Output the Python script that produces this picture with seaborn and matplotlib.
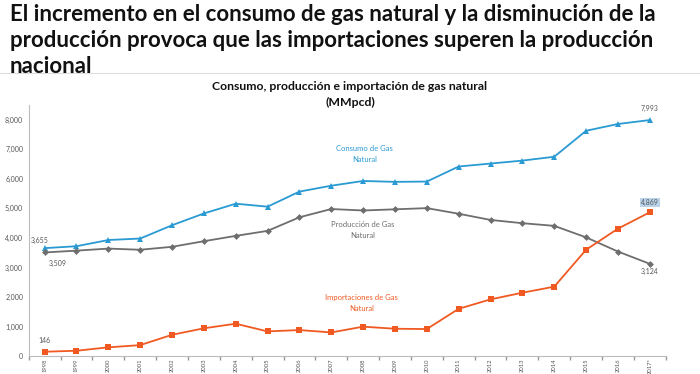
import pandas as pd
import matplotlib.pyplot as plt
import seaborn as sns

sns.set_theme(style="white")
plt.rcParams["font.family"] = ["Lato", "DejaVu Sans"]

years = ["1998", "1999", "2000", "2001", "2002", "2003", "2004", "2005", "2006", "2007",
         "2008", "2009", "2010", "2011", "2012", "2013", "2014", "2015", "2016", "2017*"]
consumo = [3655, 3720, 3930, 3980, 4430, 4830, 5160, 5060, 5570, 5770,
           5930, 5900, 5910, 6420, 6520, 6620, 6750, 7630, 7860, 7993]
produccion = [3509, 3570, 3640, 3600, 3700, 3890, 4070, 4240, 4700, 4980,
              4930, 4970, 5010, 4820, 4610, 4500, 4410, 4020, 3540, 3124]
importaciones = [146, 180, 295, 370, 720, 940, 1095, 835, 880, 800,
                 995, 925, 915, 1600, 1920, 2145, 2350, 3600, 4315, 4869]

blue = "#2a9ad3"
gray = "#6e6e6e"
orange = "#f05a22"

df = pd.DataFrame({"year": years, "Consumo": consumo,
                   "Produccion": produccion, "Importaciones": importaciones})

fig = plt.figure(figsize=(7, 3.74), dpi=100)
ax = fig.add_axes([0.041, 0.048, 0.91, 0.671])

sns.lineplot(data=df, x="year", y="Consumo", ax=ax, color=blue, marker="^",
             markersize=5, markeredgewidth=0, linewidth=1.3, sort=False)
sns.lineplot(data=df, x="year", y="Produccion", ax=ax, color=gray, marker="D",
             markersize=3.5, markeredgewidth=0, linewidth=1.3, sort=False)
sns.lineplot(data=df, x="year", y="Importaciones", ax=ax, color=orange, marker="s",
             markersize=4.5, markeredgewidth=0, linewidth=1.3, sort=False)

ax.set_xlim(-0.5, 19.5)
ax.set_ylim(0, 8500)
ax.set_yticks(range(0, 9000, 1000))
ax.set_yticklabels([f"{v:,}" for v in range(0, 9000, 1000)])
ax.set_xlabel("")
ax.set_ylabel("")
ax.tick_params(axis="y", labelsize=5, colors="#555555", length=0, pad=4)
ax.tick_params(axis="x", labelsize=4.2, colors="#555555", length=0, pad=1.5, rotation=90)
ax.set_xticks([i + 0.5 for i in range(-1, 20)], minor=True)
ax.tick_params(axis="x", which="minor", length=3, color="#999999", bottom=True)
for s in ["top", "right"]:
    ax.spines[s].set_visible(False)
for s in ["left", "bottom"]:
    ax.spines[s].set_color("#bbbbbb")
    ax.spines[s].set_linewidth(0.8)

# data labels
lab = dict(fontsize=5, color="#555555", ha="center", va="center")
ax.text(-0.15, 3930, "3,655", **lab)
ax.text(0.4, 3130, "3,509", **lab)
ax.text(0.0, 530, "146", **lab)
ax.text(19.0, 8400, "7,993", **lab)
ax.text(19.0, 5200, "4,869", bbox=dict(boxstyle="square,pad=0.15", fc="#b9d3ea", ec="none"), **lab)
ax.text(19.0, 2850, "3,124", **lab)

# series labels
ax.text(10.05, 6850, "Consumo de Gas\nNatural", fontsize=5.5, color=blue, ha="center",
        va="center", linespacing=1.6)
ax.text(10.0, 4270, "Producción de Gas\nNatural", fontsize=5.5, color=gray, ha="center",
        va="center", linespacing=1.6)
ax.text(9.95, 1800, "Importaciones de Gas\nNatural", fontsize=5.5, color=orange, ha="center",
        va="center", linespacing=1.6)

fig.text(0.014, 0.99, "El incremento en el consumo de gas natural y la disminución de la\n"
         "producción provoca que las importaciones superen la producción\nnacional",
         fontsize=16, fontweight="bold", color="#111111", ha="left", va="top", linespacing=1.3)
fig.add_artist(plt.Line2D([0, 1], [1 - 73 / 374, 1 - 73 / 374], color="#dddddd", linewidth=0.8))
fig.text(0.5, 1 - 87 / 374, "Consumo, producción e importación de gas natural",
         fontsize=8.8, fontweight="bold", color="#111111", ha="center", va="center")
fig.text(0.5, 1 - 102 / 374, "(MMpcd)", fontsize=8.8, fontweight="bold",
         color="#111111", ha="center", va="center")

fig.savefig("out.png", dpi=100)
